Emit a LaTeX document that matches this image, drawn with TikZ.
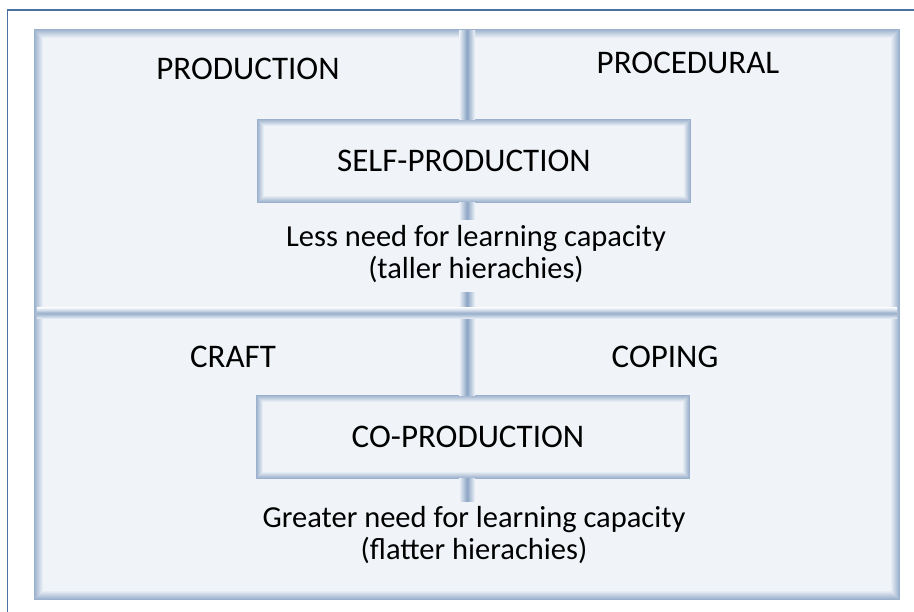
\documentclass[tikz,border=0pt]{standalone}
\usepackage{fontspec}
\setmainfont{Carlito}
\usetikzlibrary{calc}
\definecolor{panel}{HTML}{F0F4F9}
\definecolor{bev}{HTML}{9AB0CC}
\definecolor{bardark}{HTML}{8CA5C4}
\definecolor{frameblue}{HTML}{4C72A4}
\newcommand\bevelbox[2]{%
  \foreach \i in {0,...,#2}{%
    \pgfmathtruncatemacro\pc{100-100*\i/#2}%
    \draw[bev!\pc!panel, line width=1.05pt]
      ([xshift={(\i+0.5)*1pt}, yshift={-(\i+0.5)*1pt}]#1.north west) rectangle
      ([xshift={-(\i+0.5)*1pt}, yshift={(\i+0.5)*1pt}]#1.south east);
  }%
}
\begin{document}
\begin{tikzpicture}[x=1pt,y=-1pt,
  capsfont/.style={font=\fontsize{33pt}{36pt}\selectfont},
  txt/.style={capsfont, inner sep=0pt, text=black, align=center},
  lowtxt/.style={font=\fontsize{30.5pt}{32pt}\selectfont, inner sep=0pt, text=black, align=center},
  panelbox/.style={fill=panel, draw=none, inner sep=0pt, minimum width=866pt, minimum height=571pt},
  labelbox/.style={capsfont, fill=panel, draw=none, inner sep=0pt, minimum width=433pt, minimum height=83pt, text=black},
  vbar/.style={left color=panel, right color=panel, middle color=bardark}]
\useasboundingbox (0,0) rectangle (914,612);
\fill[white] (0,0) rectangle (914,612);
% open outer frame
\draw[frameblue, line width=1.5pt] (7.5,612) -- (7.5,10) -- (914,10);
% main panel
\node[panelbox] (panel) at (467,314.5) {};
\bevelbox{panel}{9}
% boxes
\node[labelbox] (self) at (474,161) {\hspace*{-20pt}SELF-PRODUCTION};
\bevelbox{self}{7}
\node[labelbox] (co) at (473,437) {\hspace*{-10pt}CO-PRODUCTION};
\bevelbox{co}{7}
% divider coordinates
\coordinate (ptop) at (467,31);
\coordinate (lessA) at (467,220);
\coordinate (lessB) at (467,293);
\coordinate (hdiv) at (467,312);
\coordinate (greatA) at (467,502);
% vertical divider segments
\shade[vbar] ($(ptop)+(-8,0)$) rectangle ($(ptop |- self.north)+(8,0)$);
\shade[vbar] ($(ptop |- self.south)+(-8,0)$) rectangle ($(lessA)+(8,0)$);
\shade[vbar] ($(lessB)+(-8,0)$) rectangle ($(lessB |- co.north)+(8,0)$);
\shade[vbar] ($(lessB |- co.south)+(-8,0)$) rectangle ($(greatA)+(8,0)$);
% horizontal divider
\shade[top color=panel, bottom color=panel, middle color=bev]
  ($(hdiv -| panel.west)+(3,-4)$) rectangle ($(hdiv -| panel.east)+(-3,7)$);
\draw[bev!80!panel, line width=0.8pt] ($(hdiv -| panel.west)+(3,0)$) -- ($(hdiv -| panel.east)+(-3,0)$);
% labels
\node[txt] (production) at (248,69) {PRODUCTION};
\node[txt] (procedural) at (688,63) {PROCEDURAL};
\node[txt] (craft) at (233,357) {CRAFT};
\node[txt] (coping) at (665,357) {COPING};
\node[lowtxt] (less) at (476,254) {Less need for learning capacity\\(taller hierachies)};
\node[lowtxt] (greater) at (474,535) {Greater need for learning capacity\\(flatter hierachies)};
\end{tikzpicture}
\end{document}
